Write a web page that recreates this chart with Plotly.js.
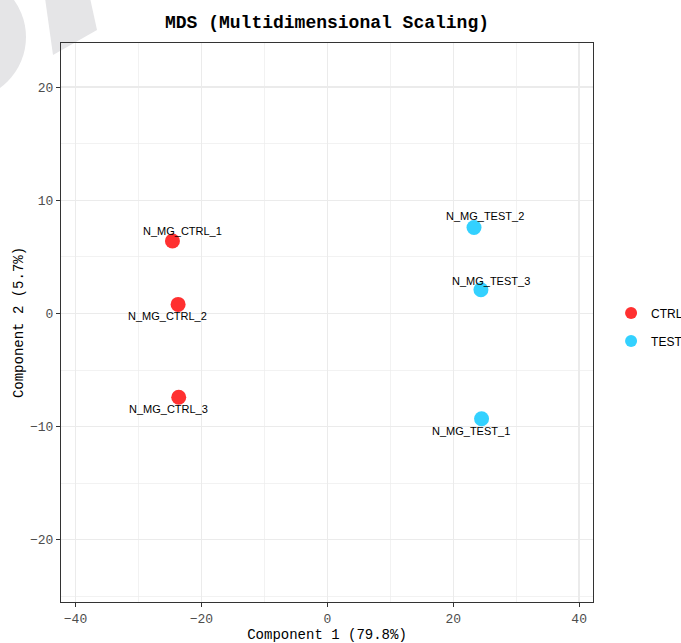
<!DOCTYPE html>
<html>
<head>
<meta charset="utf-8">
<script src="https://cdn.plot.ly/plotly-3.0.1.min.js"></script>
<style>
  html, body { margin: 0; padding: 0; background: #fff; }
  #chart { width: 681px; height: 643px; }
</style>
</head>
<body>
<div id="chart"></div>
<script>
// MDS coordinates per sample
var ctrlNames = ['N_MG_CTRL_1', 'N_MG_CTRL_2', 'N_MG_CTRL_3'];
var ctrlX = [-24.6, -23.7, -23.6];
var ctrlY = [6.4, 0.8, -7.4];

var testNames = ['N_MG_TEST_1', 'N_MG_TEST_2', 'N_MG_TEST_3'];
var testX = [24.5, 23.3, 24.4];
var testY = [-9.3, 7.6, 2.1];

var xTicks = [-40, -20, 0, 20, 40];
var yTicks = [-20, -10, 0, 10, 20];

// label nudges in pixels (repel-style placement)
var ctrlShiftX = [10, -11, -10];
var ctrlShiftY = [10, -12, -12];
var testShiftX = [-11, 11, 10];
var testShiftY = [-12, 11, 9];

var mono = 'Liberation Mono, DejaVu Sans Mono, monospace';
var sans = 'Liberation Sans, Arial, sans-serif';

var traces = [
  {
    x: ctrlX, y: ctrlY, text: ctrlNames, name: 'CTRL', legendgroup: 'ctrl',
    type: 'scatter', mode: 'markers',
    marker: { color: '#ff3030', size: 15 },
    hoverinfo: 'text'
  },
  {
    x: testX, y: testY, text: testNames, name: 'TEST', legendgroup: 'test',
    type: 'scatter', mode: 'markers',
    marker: { color: '#33d1ff', size: 15 },
    hoverinfo: 'text'
  }
];

var annotations = [];
function addLabels(names, xs, ys, sx, sy) {
  for (var i = 0; i < names.length; i++) {
    annotations.push({
      x: xs[i], y: ys[i], xref: 'x', yref: 'y',
      text: names[i], showarrow: false,
      xshift: sx[i], yshift: sy[i],
      font: { family: sans, size: 11, color: '#000' }
    });
  }
}
addLabels(ctrlNames, ctrlX, ctrlY, ctrlShiftX, ctrlShiftY);
addLabels(testNames, testX, testY, testShiftX, testShiftY);

// watermark shapes behind the panel (paper coords)
var L = 61, R = 593, T = 43, B = 602;
function px(v) { return (v - L) / (R - L); }
function py(v) { return (B - v) / (B - T); }
var wm = '#e5e5e7';
var shapes = [
  {
    type: 'circle', xref: 'paper', yref: 'paper', layer: 'below',
    x0: px(-100), x1: px(26), y0: py(-26), y1: py(100),
    fillcolor: wm, line: { width: 0 }
  },
  {
    type: 'path', xref: 'paper', yref: 'paper', layer: 'below',
    path: 'M' + px(45) + ',' + py(-2) + ' L' + px(90) + ',' + py(-2) +
          ' L' + px(97) + ',' + py(30) + ' L' + px(53) + ',' + py(55) + ' Z',
    fillcolor: wm, line: { width: 0 }
  }
];

var axisCommon = {
  showline: true, mirror: true, linecolor: '#333333', linewidth: 1.1,
  ticks: 'outside', ticklen: 4, tickwidth: 1.1, tickcolor: '#333333',
  tickfont: { family: mono, size: 13, color: '#4d4d4d' },
  showgrid: true, gridcolor: '#ebebeb', gridwidth: 1.4,
  zeroline: false
};

var layout = {
  width: 681, height: 643,
  margin: { l: L, r: 681 - R, t: T, b: 643 - B, autoexpand: false },
  paper_bgcolor: '#ffffff', plot_bgcolor: '#ffffff',
  title: {
    text: '<b>MDS (Multidimensional Scaling)</b>',
    font: { family: mono, size: 18, color: '#000' },
    x: 0.5, xref: 'paper', xanchor: 'center',
    y: 1 - 22 / 643, yanchor: 'middle'
  },
  xaxis: Object.assign({}, axisCommon, {
    range: [-42.3, 42.2], tickvals: xTicks,
    minor: { dtick: 10, tick0: 0, showgrid: true, gridcolor: '#ededed', gridwidth: 0.7, ticks: '' },
    title: { text: 'Component 1 (79.8%)', font: { family: mono, size: 14, color: '#000' }, standoff: 6 }
  }),
  yaxis: Object.assign({}, axisCommon, {
    range: [-25.5, 23.9], tickvals: yTicks,
    minor: { dtick: 5, tick0: 0, showgrid: true, gridcolor: '#ededed', gridwidth: 0.7, ticks: '' },
    title: { text: 'Component 2 (5.7%)', font: { family: mono, size: 14, color: '#000' }, standoff: 3 }
  }),
  legend: {
    x: 1.034, xanchor: 'left', y: 0.492, yanchor: 'middle',
    font: { family: sans, size: 12, color: '#000' },
    itemsizing: 'constant', traceorder: 'grouped', tracegroupgap: 9
  },
  showlegend: true,
  annotations: annotations,
  shapes: shapes
};

Plotly.newPlot('chart', traces, layout, { displayModeBar: false, staticPlot: true });
</script>
</body>
</html>
